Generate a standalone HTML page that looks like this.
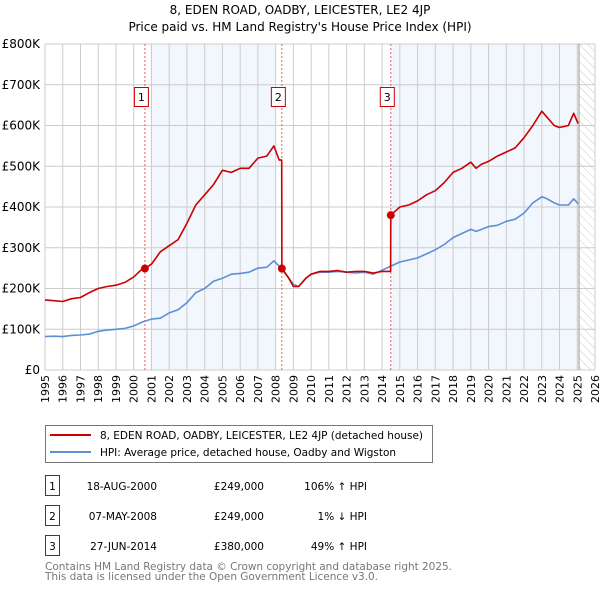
<!DOCTYPE html>
<html><head><meta charset="utf-8"><style>
body{margin:0;background:#fff;font-family:"DejaVu Sans","Liberation Sans",sans-serif;}
svg text{font-family:"DejaVu Sans","Liberation Sans",sans-serif;}
</style></head><body>
<svg id="chart" width="600" height="590" viewBox="0 0 600 590" xmlns="http://www.w3.org/2000/svg">
<defs><pattern id="hatch" width="6" height="6" patternUnits="userSpaceOnUse" patternTransform="rotate(-45)"><line x1="0" y1="0" x2="0" y2="6" stroke="#ccc" stroke-width="1"/></pattern></defs>
<text x="300" y="14" text-anchor="middle" font-size="12">8, EDEN ROAD, OADBY, LEICESTER, LE2 4JP</text>
<text x="300" y="31" text-anchor="middle" font-size="12">Price paid vs. HM Land Registry's House Price Index (HPI)</text>
<g id="plot"></g>
<g>
<rect x="45.5" y="425.5" width="387" height="37" fill="#fff" stroke="#777"/>
<line x1="50" y1="435" x2="91" y2="435" stroke="#cc0000" stroke-width="2"/>
<text x="100" y="439" font-size="10.5" textLength="323">8, EDEN ROAD, OADBY, LEICESTER, LE2 4JP (detached house)</text>
<line x1="50" y1="452" x2="91" y2="452" stroke="#5b8fd6" stroke-width="2"/>
<text x="100" y="456" font-size="10.5" textLength="296">HPI: Average price, detached house, Oadby and Wigston</text>
</g>
<g font-size="10.5">
<rect x="45.5" y="475.5" width="14" height="20" fill="#fff" stroke="#cc0000"/><text x="52.5" y="490" text-anchor="middle">1</text>
<text x="157" y="490" text-anchor="end">18-AUG-2000</text><text x="264" y="490" text-anchor="end">£249,000</text><text x="367" y="490" text-anchor="end">106% ↑ HPI</text>
<rect x="45.5" y="505.5" width="14" height="20" fill="#fff" stroke="#cc0000"/><text x="52.5" y="520" text-anchor="middle">2</text>
<text x="157" y="520" text-anchor="end">07-MAY-2008</text><text x="264" y="520" text-anchor="end">£249,000</text><text x="367" y="520" text-anchor="end">1% ↓ HPI</text>
<rect x="45.5" y="535.5" width="14" height="20" fill="#fff" stroke="#cc0000"/><text x="52.5" y="550" text-anchor="middle">3</text>
<text x="157" y="550" text-anchor="end">27-JUN-2014</text><text x="264" y="550" text-anchor="end">£380,000</text><text x="367" y="550" text-anchor="end">49% ↑ HPI</text>
</g>
<text x="45" y="570" font-size="10.5" fill="#777" textLength="407">Contains HM Land Registry data © Crown copyright and database right 2025.</text>
<text x="45" y="580" font-size="10.5" fill="#777" textLength="333">This data is licensed under the Open Government Licence v3.0.</text>
</svg>
<script>
const yearTicks=[1995,1996,1997,1998,1999,2000,2001,2002,2003,2004,2005,2006,2007,2008,2009,2010,2011,2012,2013,2014,2015,2016,2017,2018,2019,2020,2021,2022,2023,2024,2025,2026];
const priceTicks=[0,100,200,300,400,500,600,700,800];
const priceTickLabels=["£0","£100K","£200K","£300K","£400K","£500K","£600K","£700K","£800K"];
const hpiYears=[1995,1995.5,1996,1996.5,1997,1997.5,1998,1998.5,1999,1999.5,2000,2000.5,2001,2001.5,2002,2002.5,2003,2003.5,2004,2004.5,2005,2005.5,2006,2006.5,2007,2007.5,2007.9,2008.3,2008.7,2009,2009.3,2009.7,2010,2010.5,2011,2011.5,2012,2012.5,2013,2013.5,2014,2014.5,2015,2015.5,2016,2016.5,2017,2017.5,2018,2018.5,2019,2019.3,2019.6,2020,2020.5,2021,2021.5,2022,2022.5,2023,2023.3,2023.7,2024,2024.5,2024.8,2025.05];
const hpiValues=[82,83,82,85,86,88,95,98,100,102,108,118,125,127,140,148,165,190,200,218,225,235,237,240,250,252,268,250,228,210,205,225,235,240,240,242,240,238,240,235,245,255,265,270,275,285,295,308,325,335,345,340,345,352,355,365,370,385,410,425,420,410,405,405,420,408];
const propYears=[1995,1995.5,1996,1996.5,1997,1997.5,1998,1998.5,1999,1999.5,2000,2000.4,2000.63,2001,2001.5,2002,2002.5,2003,2003.5,2004,2004.5,2005,2005.5,2006,2006.5,2007,2007.5,2007.9,2008.2,2008.34,2008.35,2008.7,2009,2009.3,2009.7,2010,2010.5,2011,2011.5,2012,2012.5,2013,2013.5,2014,2014.48,2014.49,2015,2015.5,2016,2016.5,2017,2017.5,2018,2018.5,2019,2019.3,2019.6,2020,2020.5,2021,2021.5,2022,2022.5,2023,2023.3,2023.7,2024,2024.5,2024.8,2025.05];
const propValues=[172,170,168,175,178,190,200,205,208,215,228,245,249,260,290,305,320,360,405,430,455,490,485,495,495,520,525,550,515,515,249,228,205,205,225,235,242,242,244,240,242,242,238,242,242,380,400,405,415,430,440,460,485,495,510,495,505,512,525,535,545,570,600,635,620,600,595,600,630,605];
const saleYears=[2000.63,2008.35,2014.49];
const saleValues=[249,249,380];
const saleLabels=["1","2","3"];

const X0=45,X1=595,Y0=370,Y1=44,END=2025.1;
const xs=y=>X0+(y-1995)*(X1-X0)/31;
const ys=v=>Y0-v*(Y0-Y1)/800;
const NS="http://www.w3.org/2000/svg";
const plot=document.getElementById('plot');
function mk(tag,attrs){const e=document.createElementNS(NS,tag);for(const k in attrs)e.setAttribute(k,attrs[k]);plot.appendChild(e);return e;}
let r=mk('rect',{x:X0,y:Y1,width:X1-X0,height:Y0-Y1,fill:'#fff'});


r=mk('rect',{x:xs(2001),y:Y1,width:xs(2008)-xs(2001),height:Y0-Y1,fill:'#eef3fc',opacity:0.75});


r=mk('rect',{x:xs(saleYears[2]),y:Y1,width:xs(END)-xs(saleYears[2]),height:Y0-Y1,fill:'#eef3fc',opacity:0.75});


r=mk('rect',{x:xs(END),y:Y1,width:X1-xs(END),height:Y0-Y1,fill:'url(#hatch)'});


yearTicks.forEach(t=>{const l=mk('line',{x1:xs(t),x2:xs(t),y1:Y1,y2:Y0,stroke:'#ccc','stroke-width':1});


const tx=mk('text',{x:0,y:0,'font-size':11,'text-anchor':'end',transform:`translate(${xs(t)+4},${Y0+5}) rotate(-90)`});
tx.textContent=t;

});
priceTicks.forEach((t,i)=>{const l=mk('line',{x1:X0,x2:X1,y1:ys(t),y2:ys(t),stroke:'#ccc','stroke-width':1});


const tx=mk('text',{x:40,y:ys(t)+4,'font-size':12,'text-anchor':'end'});
tx.textContent=priceTickLabels[i];

});
let l=mk('line',{x1:xs(END),x2:xs(END),y1:Y1,y2:Y0,stroke:'#999','stroke-width':1});


saleYears.forEach((s,i)=>{const d=mk('line',{x1:xs(s),x2:xs(s),y1:Y1,y2:Y0,stroke:'#e06060','stroke-width':1,'stroke-dasharray':'2,2'});

});
function path(xv,yv,color,name){const d=xv.map((x,i)=>(i?'L':'M')+xs(x).toFixed(1)+','+ys(yv[i]).toFixed(1)).join('');
const p=mk('path',{d:d,fill:'none',stroke:color,'stroke-width':1.6,'stroke-linejoin':'round'});

}
path(hpiYears,hpiValues,'#5b8fd6','hpi-line');
path(propYears,propValues,'#cc0000','property-line');
saleYears.forEach((s,i)=>{const c=mk('circle',{cx:xs(s),cy:ys(saleValues[i]),r:4,fill:'#cc0000'});


const b=mk('rect',{x:xs(s)-10.5,y:87.5,width:14,height:19,fill:'#fff',stroke:'#cc0000'});


const t=mk('text',{x:xs(s)-3.5,y:101,'font-size':11,'text-anchor':'middle'});
t.textContent=saleLabels[i];

});
</script>
</body></html>
